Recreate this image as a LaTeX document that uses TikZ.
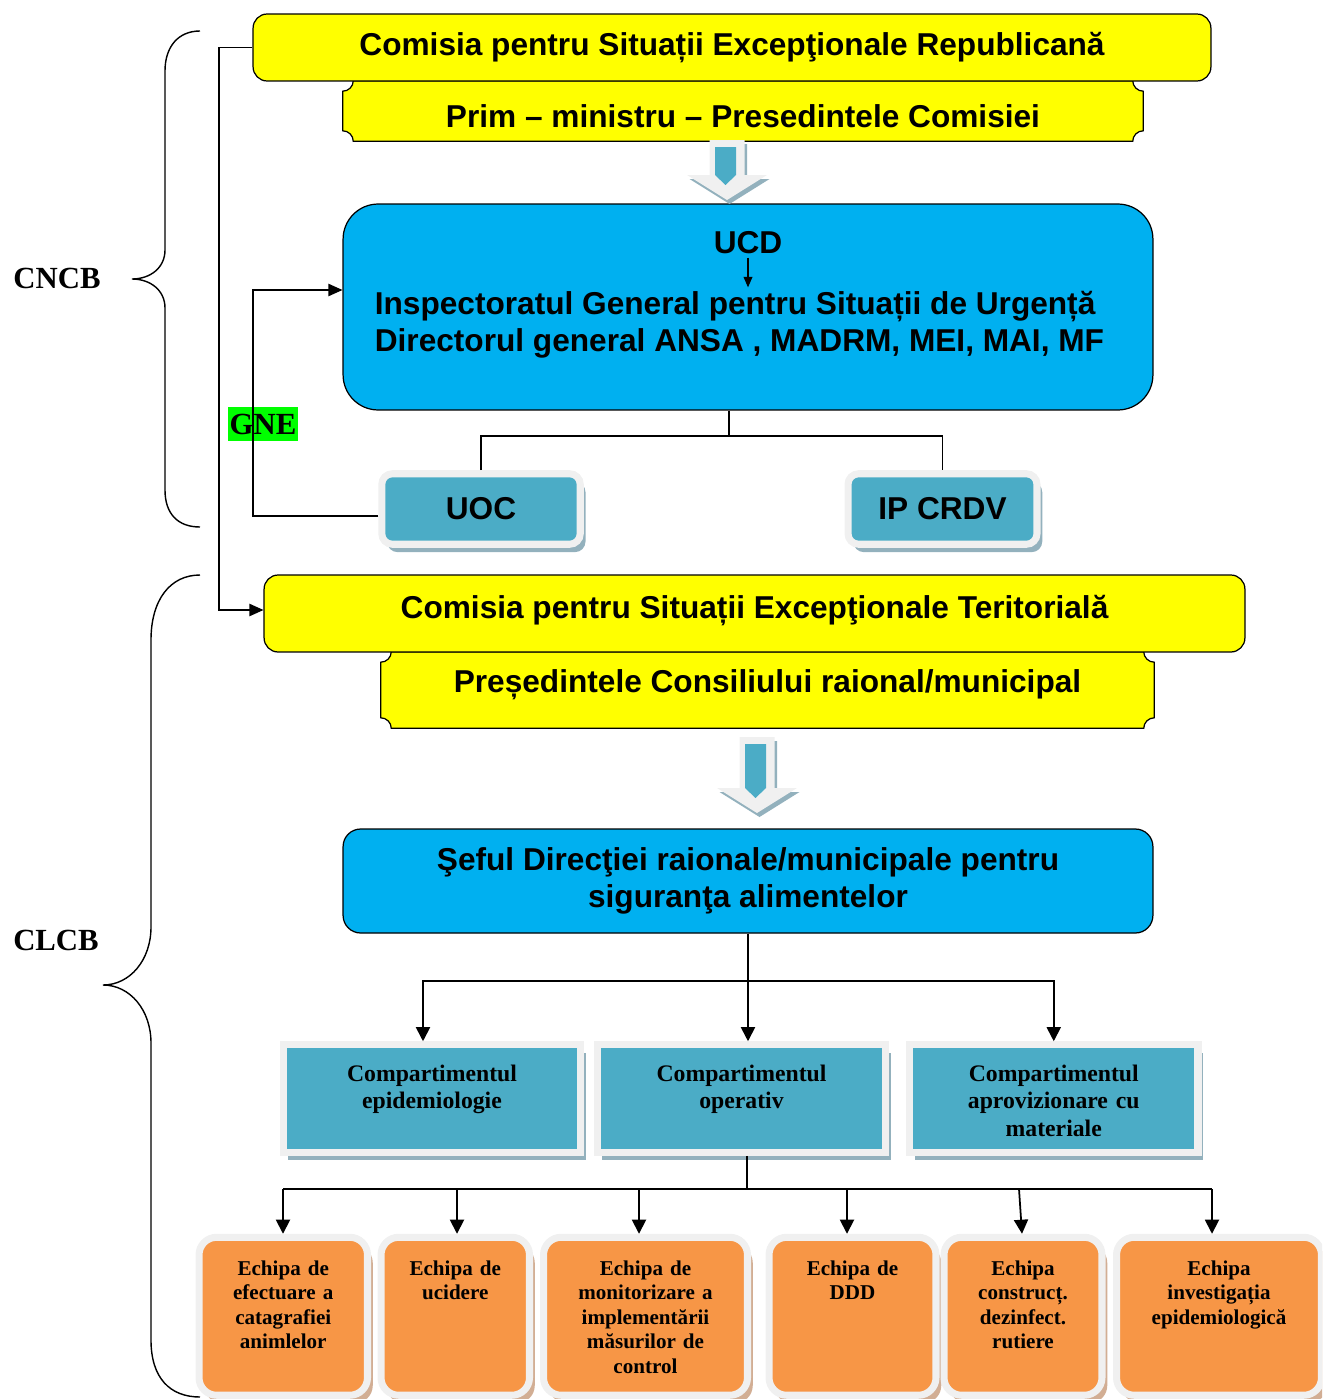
\documentclass[tikz,border=0pt]{standalone}
\usepackage{fontspec}
\setmainfont{Liberation Serif}
\newfontfamily\arialfont{Liberation Sans}
\usetikzlibrary{arrows.meta,shadows,backgrounds}
\definecolor{cyellow}{HTML}{FFFF00}
\definecolor{cblue}{HTML}{00B0F0}
\definecolor{cteal}{HTML}{4BACC6}
\definecolor{corange}{HTML}{F79646}
\definecolor{cframe}{HTML}{F0F0F0}
\definecolor{cshadow}{HTML}{93B1BD}
\definecolor{ctan}{HTML}{D2AE94}
\definecolor{cgreen}{HTML}{00FF00}

\begin{document}
\begin{tikzpicture}[x=0.02cm,y=0.02cm,
	arial/.style={font=\arialfont\bfseries\fontsize{18}{21}\selectfont},
	commission/.style={arial, draw, line width=0.7pt, fill=cyellow, rounded corners=8pt},
	plaque/.style={arial, inner sep=0pt},
	plaqueline/.style={draw, line width=0.7pt, fill=cyellow},
	unitbox/.style={arial, draw, line width=0.7pt, fill=cblue, align=center},
	smallunit/.style={arial, fill=cteal, draw=cframe, line width=4pt, rounded corners=6pt, minimum height=1.41cm,
		drop shadow={shadow xshift=3pt, shadow yshift=-4.5pt, fill=cshadow, opacity=1}},
	compbox/.style={fill=cteal, draw=cframe, line width=4pt, inner sep=0pt, text width=5.5cm, align=center,
		text height=21pt, text depth=40.2pt, font=\bfseries\fontsize{13.5}{15.5}\selectfont,
		drop shadow={shadow xshift=3pt, shadow yshift=-4.5pt, fill=cshadow, opacity=1}},
	teambox/.style={fill=corange, draw=cframe, line width=4pt, rounded corners=10pt, inner sep=0pt, text width=2.9cm, align=center,
		text height=21.5pt, text depth=68.4pt, font=\bfseries\fontsize{12}{14}\selectfont,
		drop shadow={shadow xshift=3pt, shadow yshift=-4.5pt, fill=ctan, opacity=1}},
	txt/.style={arial, inner sep=2pt},
	side/.style={font=\bfseries\fontsize{17.5}{20}\selectfont},
	link/.style={line width=0.8pt},
	conn/.style={line width=1pt, -{Triangle[length=8pt,width=8pt]}}
	]
	%\draw[help lines] (0,0) grid[step=50] (1322,-1399);
	\useasboundingbox (0,0) rectangle (1322,-1399);
	\clip (0,0) rectangle (1322,-1399);

	% national level
	\node[plaque, minimum width=16cm, minimum height=1.2cm, text height=18.5pt] (prim) at (743,-111) {Prim – ministru – Presedintele Comisiei};
	\node[commission, minimum width=19.16cm, minimum height=1.34cm] (csr) at (732,-47.5) {Comisia pentru Situații Excepţionale Republicană};
	\node[unitbox, minimum width=16.2cm, minimum height=4.12cm, rounded corners=20pt] (ucd) at (748,-307) {};
	\node[txt, anchor=base] (ucdt) at (748,-253.5) {UCD};
	\node[txt, anchor=base west] (isu) at (371,-314.5) {Inspectoratul General pentru Situații de Urgență};
	\node[txt, anchor=base west] (dir) at (371,-351.5) {Directorul general ANSA , MADRM, MEI, MAI, MF};
	\draw[line width=0.7pt, -{Triangle[length=6pt,width=5pt]}] (ucdt.south) -- (ucdt.south |- isu.north);
	\node[smallunit, minimum width=3.97cm] (uoc) at (481,-509) {UOC};
	\node[smallunit, minimum width=3.78cm] (ipc) at (942.5,-509) {IP CRDV};
	\node[side, fill=cgreen, inner sep=0pt, minimum width=1.4cm, minimum height=0.68cm] (gne) at (263,-424) {GNE};
	\node[side] (cncb) at (57,-278) {CNCB};
	\node[side] (clcb) at (56,-940) {CLCB};

	% territorial level
	\node[plaque, minimum width=15.46cm, minimum height=1.52cm, text depth=10pt] (pres) at (767.5,-690) {Președintele Consiliului raional/municipal};
	\node[commission, minimum width=19.62cm, minimum height=1.54cm, text depth=7pt] (cst) at (754.5,-613.5) {Comisia pentru Situații Excepţionale Teritorială};
	\node[unitbox, minimum width=16.2cm, minimum height=2.08cm, rounded corners=10pt] (seful) at (748,-881) {Şeful Direcţiei raionale/municipale pentru\\siguranţa alimentelor};
	\node[compbox, minimum width=5.96cm] (c1) at (432,-1098.5) {Compartimentul\\epidemiologie};
	\node[compbox, minimum width=5.78cm] (c2) at (741.5,-1098.5) {Compartimentul\\operativ};
	\node[compbox, minimum width=5.77cm] (c3) at (1053.75,-1098.5) {Compartimentul\\aprovizionare cu\\materiale};
	\node[teambox, minimum width=3.37cm] (o1) at (283.25,-1316.25) {Echipa de\\efectuare a\\catagrafiei\\animlelor};
	\node[teambox, minimum width=2.97cm] (o2) at (455.25,-1316.25) {Echipa de\\ucidere};
	\node[teambox, minimum width=4.08cm] (o3) at (645.5,-1316.25) {Echipa de\\monitorizare a\\implementării\\măsurilor de\\control};
	\node[teambox, minimum width=3.34cm] (o4) at (852.5,-1316.25) {Echipa de\\DDD};
	\node[teambox, minimum width=3.16cm] (o5) at (1023,-1316.25) {Echipa\\construcț.\\dezinfect.\\rutiere};
	\node[teambox, minimum width=4.1cm] (o6) at (1219,-1316.25) {Echipa\\investigația\\epidemiologică};

	\begin{scope}[on background layer]
		\foreach \pl in {prim,pres}
			\draw[plaqueline] ([xshift=6pt]\pl.north west) -- ([xshift=-6pt]\pl.north east) arc[start angle=180, end angle=270, radius=6pt]
				-- ([yshift=6pt]\pl.south east) arc[start angle=90, end angle=180, radius=6pt]
				-- ([xshift=6pt]\pl.south west) arc[start angle=0, end angle=90, radius=6pt]
				-- ([yshift=-6pt]\pl.north west) arc[start angle=270, end angle=360, radius=6pt] -- cycle;
	\end{scope}

	% block arrows
	\foreach \ax/\ay/\al [evaluate=\al as \hb using 25-\al] in {727/140/60, 757/737/76}{
		\begin{scope}[shift={(\ax,-\ay)}]
			\fill[cshadow, shift={(2.5,-4)}] (-17.5,0) -- (17.5,0) -- (17.5,\hb) -- (40,\hb) -- (0,-\al) -- (-40,\hb) -- (-17.5,\hb) -- cycle;
			\fill[cframe] (-17.5,0) -- (17.5,0) -- (17.5,\hb) -- (40,\hb) -- (0,-\al) -- (-40,\hb) -- (-17.5,\hb) -- cycle;
			\fill[cteal] (-12,-7) -- (9,-7) -- (9,\hb) -- (-1.5,\hb-10) -- (-12,\hb) -- cycle;
		\end{scope}
	}

	% braces
	\draw[line width=0.8pt] (200,-31) .. controls (178,-31) and (165,-47) .. (165,-71) -- (165,-250)
		.. controls (165,-268) and (150,-279) .. (132,-279) .. controls (150,-279) and (165,-290) .. (165,-308)
		-- (165,-490) .. controls (165,-514) and (178,-527) .. (200,-527);
	\draw[line width=0.8pt] (200,-575) .. controls (170,-575) and (151,-600) .. (151,-640) -- (151,-927)
		.. controls (151,-960) and (130,-985) .. (103,-985) .. controls (130,-985) and (151,-1010) .. (151,-1043)
		-- (151,-1340) .. controls (151,-1378) and (170,-1397) .. (200,-1397);

	% connectors
	\coordinate (f1) at (729,-436);
	\draw[link] (f1 |- ucd.south) -- (f1);
	\draw[link] (uoc.north) |- (f1) -| (ipc.north);
	\coordinate (g1) at (253,-516);
	\coordinate (g2) at (253,-290);
	\draw[link, -{Triangle[length=8pt,width=7pt]}] (g1 -| uoc.west) -- (g1) -- (g2) -- (g2 -| ucd.west);
	\coordinate (l1) at (219,-610);
	\draw[link, -{Triangle[length=8pt,width=7pt]}] (csr.west) -| (l1) -- (l1 -| cst.west);

	\coordinate (f2) at (748,-981);
	\draw[conn] (seful.south) -- (seful.south |- c2.north);
	\draw[conn] (f2) -| (423,0 |- c1.north);
	\draw[conn] (f2) -| (c3.north);

	\coordinate (f3) at (747,-1189);
	\draw[line width=1pt] (f3 |- c2.south) -- (f3);
	\draw[line width=1pt] (283,0 |- f3) -- (1212,0 |- f3);
	\foreach \xa/\tg in {283/o1, 457/o2, 639/o3, 847/o4, 1212/o6}
		\draw[conn] (\xa,0 |- f3) -- (\xa,0 |- \tg.north);
	\draw[conn] (1019,0 |- f3) -- (1022,0 |- o5.north);
\end{tikzpicture}
\end{document}
